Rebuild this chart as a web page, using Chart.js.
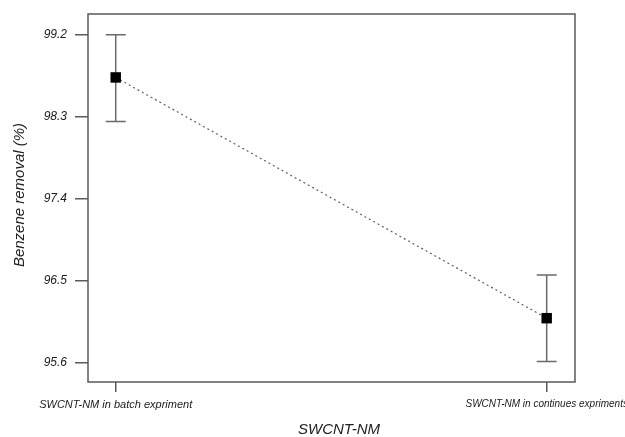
<!DOCTYPE html>
<html>
<head>
<meta charset="utf-8">
<script src="https://cdn.jsdelivr.net/npm/chart.js@4.4.1/dist/chart.umd.min.js"></script>
<style>
  html, body { margin: 0; padding: 0; background: #fff; }
  #wrap { width: 625px; height: 437px; }
</style>
</head>
<body>
<div id="wrap"><canvas id="c" width="625" height="437"></canvas></div>
<script>
// Benzene removal by SWCNT-NM, mean ± error for each experiment type
const categories = ['SWCNT-NM in batch expriment', 'SWCNT-NM in continues expriments'];
const positions = [1, 2];
const removal = [98.73, 96.085];
const errLower = [98.245, 95.61];
const errUpper = [99.2, 96.56];
const yTicks = [95.6, 96.5, 97.4, 98.3, 99.2];

const FONT = '"Liberation Sans", Arial, sans-serif';
const AXIS_GREY = '#5a5a5a';

// Frame around the plotting area, error bars and axis titles
const decorations = {
  id: 'decorations',
  beforeDatasetsDraw(chart) {
    const { ctx, scales: { x, y } } = chart;
    ctx.save();
    ctx.strokeStyle = '#6a6a6a';
    ctx.lineWidth = 1.5;
    positions.forEach((p, i) => {
      const px = x.getPixelForValue(p);
      const top = y.getPixelForValue(errUpper[i]);
      const bot = y.getPixelForValue(errLower[i]);
      ctx.beginPath();
      ctx.moveTo(px, top); ctx.lineTo(px, bot);
      ctx.moveTo(px - 10, top); ctx.lineTo(px + 10, top);
      ctx.moveTo(px - 10, bot); ctx.lineTo(px + 10, bot);
      ctx.stroke();
    });
    ctx.restore();
  },
  afterDraw(chart) {
    const { ctx, chartArea: a } = chart;
    ctx.save();
    ctx.strokeStyle = AXIS_GREY;
    ctx.lineWidth = 1.5;
    ctx.strokeRect(a.left, a.top, a.right - a.left, a.bottom - a.top);

    ctx.fillStyle = '#222';
    ctx.font = 'italic 15px ' + FONT;
    ctx.textAlign = 'center';
    ctx.textBaseline = 'middle';
    ctx.fillText('SWCNT-NM', 339, 430);

    ctx.translate(20, 195);
    ctx.rotate(-Math.PI / 2);
    ctx.fillText('Benzene removal (%)', 0, 0);
    ctx.restore();
  }
};

new Chart(document.getElementById('c'), {
  type: 'line',
  data: {
    datasets: [{
      data: positions.map((p, i) => ({ x: p, y: removal[i] })),
      borderColor: '#606060',
      borderWidth: 1.2,
      borderDash: [2, 3],
      pointStyle: 'rect',
      pointRadius: 7.4,
      pointBackgroundColor: '#000',
      pointBorderColor: '#000',
      pointBorderWidth: 0,
      tension: 0
    }]
  },
  options: {
    responsive: false,
    animation: false,
    devicePixelRatio: 1,
    layout: { autoPadding: false, padding: { top: 14, right: 50, left: 0, bottom: 0 } },
    plugins: { legend: { display: false }, tooltip: { enabled: false } },
    scales: {
      x: {
        type: 'linear',
        min: 0.9357,
        max: 2.0657,
        afterFit(s) {
          s.height = 55;
          s.paddingLeft = 0; s.paddingRight = 0;
        },
        afterBuildTicks(s) { s.ticks = positions.map(v => ({ value: v })); },
        border: { display: false },
        grid: { drawOnChartArea: false, drawTicks: true, tickLength: 10, color: AXIS_GREY, lineWidth: 1.5 },
        ticks: {
          maxRotation: 0,
          autoSkip: false,
          padding: 6,
          color: '#1a1a1a',
          font: c => ({ family: FONT, size: c.index === 1 ? 10 : 11, style: 'italic' }),
          callback: (v, i) => categories[i]
        }
      },
      y: {
        min: 95.384,
        max: 99.427,
        afterFit(s) {
          s.width = 88;
          s.paddingTop = 0; s.paddingBottom = 0;
        },
        afterBuildTicks(s) { s.ticks = yTicks.map(v => ({ value: v })); },
        border: { display: false },
        grid: { drawOnChartArea: false, drawTicks: true, tickLength: 13, color: AXIS_GREY, lineWidth: 1.5 },
        ticks: {
          padding: 8,
          color: '#1a1a1a',
          font: { family: FONT, size: 12, style: 'italic' },
          callback: v => v.toFixed(1)
        }
      }
    }
  },
  plugins: [decorations]
});
</script>
</body>
</html>
